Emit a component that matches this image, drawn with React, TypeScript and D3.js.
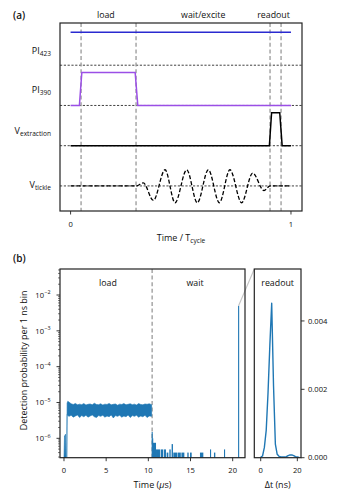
import React from "react";
import * as d3 from "d3";

// ---------- Panel (a) data ----------
const laneNames = ["PI423", "PI390", "Vextraction", "Vtickle"];
const laneOffsets = [3.66, 2.44, 1.22, 0];
const pi423T = [0, 1];
const pi423V = [1, 1];
const pi390T = [0, 0.04, 0.051, 0.293, 0.305, 1];
const pi390V = [0, 0, 1, 1, 0, 0];
const extractionT = [0, 0.902, 0.912, 0.949, 0.96, 1];
const extractionV = [0, 0, 1, 1, 0, 0];
const tickleT = [0, 0.297, 0.33, 0.3755, 0.4286, 0.474, 0.527, 0.575, 0.625, 0.675, 0.723, 0.776, 0.826, 0.8776, 0.905, 1];
const tickleV = [0, 0, 0.09, -0.44, 0.49, -0.51, 0.49, -0.51, 0.49, -0.51, 0.49, -0.51, 0.39, -0.14, 0, 0];
const phaseMarks = [0.0476, 0.297, 0.905, 0.955];
const phaseLabelsA = [
  { text: "load", t: 0.16 },
  { text: "wait/excite", t: 0.602 },
  { text: "readout", t: 0.921 },
];
const xTicksA = [0, 1];

// ---------- Panel (b) data ----------
const loadStart: [number, number][] = [
  [0.0, 2.9e-7], [0.06, 1.15e-6], [0.18, 1.3e-6], [0.24, 2.9e-7],
];
// [t (us), lower, upper]
const loadBand: [number, number, number][] = [
  [0.33, 2.9e-7, 3e-7], [0.37, 4.6e-6, 9.6e-6], [0.45, 4.3e-6, 1.08e-5], [0.6, 4.1e-6, 1.02e-5],
  [0.85, 4.4e-6, 9.2e-6], [1.1, 3.9e-6, 8.8e-6], [1.35, 4.2e-6, 9.4e-6], [1.6, 4.5e-6, 8.6e-6],
  [1.85, 3.8e-6, 9.0e-6], [2.1, 4.3e-6, 8.7e-6], [2.35, 4.0e-6, 9.3e-6], [2.6, 4.4e-6, 8.5e-6],
  [2.85, 3.9e-6, 8.9e-6], [3.1, 4.2e-6, 9.1e-6], [3.35, 4.5e-6, 8.6e-6], [3.6, 4.0e-6, 9.5e-6],
  [3.85, 3.8e-6, 8.8e-6], [4.1, 4.3e-6, 8.7e-6], [4.35, 4.1e-6, 9.2e-6], [4.6, 4.4e-6, 8.5e-6],
  [4.85, 3.9e-6, 9.0e-6], [5.1, 4.2e-6, 8.8e-6], [5.35, 4.0e-6, 9.4e-6], [5.6, 4.5e-6, 8.6e-6],
  [5.85, 3.7e-6, 8.9e-6], [6.1, 4.3e-6, 9.1e-6], [6.35, 4.1e-6, 8.4e-6], [6.6, 4.4e-6, 9.0e-6],
  [6.85, 3.9e-6, 8.8e-6], [7.1, 4.2e-6, 9.3e-6], [7.35, 4.0e-6, 8.6e-6], [7.6, 4.5e-6, 8.9e-6],
  [7.85, 3.8e-6, 9.2e-6], [8.1, 4.3e-6, 8.7e-6], [8.35, 4.1e-6, 9.0e-6], [8.6, 4.4e-6, 8.5e-6],
  [8.85, 3.9e-6, 9.3e-6], [9.1, 4.2e-6, 8.8e-6], [9.35, 4.0e-6, 8.6e-6], [9.6, 4.4e-6, 9.1e-6],
  [9.85, 3.8e-6, 8.9e-6], [10.1, 4.2e-6, 9.2e-6], [10.39, 4.1e-6, 8.7e-6],
];
// [t0, t1, value]
const waitBins: [number, number, number][] = [
  [10.39, 10.45, 1.5e-6], [10.45, 10.51, 1.0e-6], [10.51, 10.91, 7.5e-7], [10.91, 11.38, 4.9e-7],
  [11.46, 11.77, 4.9e-7], [11.86, 12.09, 4.9e-7], [12.17, 12.37, 4.0e-7], [12.49, 12.65, 4.9e-7],
  [12.76, 12.92, 6.9e-7], [12.96, 13.4, 4.0e-7], [13.46, 13.85, 4.0e-7], [13.92, 14.27, 4.0e-7],
  [14.62, 14.78, 4.0e-7], [14.94, 15.14, 4.0e-7], [16.12, 16.52, 4.0e-7], [17.31, 17.43, 4.9e-7],
  [17.78, 17.94, 4.0e-7], [18.97, 19.09, 4.9e-7], [20.64, 20.76, 5.0e-3],
];
const loadWaitBoundary = 10.45;
const spikePoint: [number, number] = [20.7, 5.0e-3];
const xTicksB = [0, 5, 10, 15, 20];
const yMajorB = [1e-6, 1e-5, 1e-4, 1e-3, 1e-2];
const yExpB = ["−6", "−5", "−4", "−3", "−2"];

const readoutT = [0, 1, 2, 3, 4, 5, 6, 7, 8, 9, 10, 11, 12, 13, 14, 15, 16, 17, 18, 19, 20, 21];
const readoutV = [0.00002, 0.00005, 0.0003, 0.0008, 0.0019, 0.0033, 0.00452, 0.0021, 0.0004, 0.0001, 0.00004, 0.00002, 0.00002, 0.00002, 0.00003, 0.00006, 0.00008, 0.00008, 0.00006, 0.00003, 0.00002, 0.00001];
const xTicksC = [0, 20];
const yTicksC = [0, 0.002, 0.004];

const FONT = "'Open Sans', 'DejaVu Sans', sans-serif";
const BLUE = "#1f77b4";

export default function App() {
  const xA = d3.scaleLinear().domain([-0.048, 1.05]).range([60, 302]);
  const yA = d3.scaleLinear().domain([-0.76, 4.94]).range([211, 23]);
  const lineA = (ts: number[], vs: number[], off: number, curve: d3.CurveFactory = d3.curveLinear) =>
    d3.line<number>().x((_, i) => xA(ts[i])).y((_, i) => yA(vs[i] + off)).curve(curve)(ts) || "";

  const xB = d3.scaleLinear().domain([-0.474, 21.46]).range([60, 245]);
  const yB = d3.scaleLog().domain([2.877e-7, 0.0532]).range([457.7, 269]);
  const xC = d3.scaleLinear().domain([-3.5, 22]).range([254.3, 301]);
  const yC = d3.scaleLinear().domain([0, 0.00554]).range([457.7, 268.3]);

  const [bx0, bx1] = xB.range();
  const [by0, by1] = yB.range();
  const [cx0, cx1] = xC.range();

  const bandPath = d3.area<[number, number, number]>()
    .x(d => xB(d[0])).y0(d => yB(d[1])).y1(d => yB(d[2]))(loadBand) || "";
  const startPath = d3.area<[number, number]>()
    .x(d => xB(d[0])).y0(by0 + 2).y1(d => yB(d[1]))(loadStart) || "";
  const readoutPath = d3.line<number>().x((_, i) => xC(readoutT[i])).y((_, i) => yC(readoutV[i]))(readoutT) || "";

  const minorB: number[] = [];
  const [dLo, dHi] = yB.domain();
  for (let e = -8; e <= -1; e++) {
    for (let k = 2; k <= 9; k++) {
      const v = k * Math.pow(10, e);
      if (v >= dLo && v <= dHi) minorB.push(v);
    }
  }

  const frame = { stroke: "#222", strokeWidth: 1.2, fill: "none" };

  return (
    <svg width={341} height={501} style={{ position: "absolute", left: 0, top: 0, fontFamily: FONT }}>
      <rect width={341} height={501} fill="white" />
      {/* ================= Panel (a) ================= */}
      <text x={13} y={19} fontSize={10} fontWeight={600} fill="#111">(a)</text>
      {phaseLabelsA.map(p => (
        <text key={p.text} x={xA(p.t)} y={18} fontSize={8.8} textAnchor="middle" fill="#111">{p.text}</text>
      ))}
      {laneOffsets.map((o, i) => (
        <line key={i} x1={60} x2={302} y1={yA(o)} y2={yA(o)} stroke="#111" strokeWidth={0.8} strokeDasharray="2.2,1.6" />
      ))}
      {phaseMarks.map((t, i) => (
        <line key={i} x1={xA(t)} x2={xA(t)} y1={23} y2={211} stroke="#999" strokeWidth={1.3} strokeDasharray="4,2.6" />
      ))}
      <path d={lineA(pi423T, pi423V, laneOffsets[0])} stroke="#2a2ad0" strokeWidth={1.5} fill="none" />
      <path d={lineA(pi390T, pi390V, laneOffsets[1])} stroke="#9b4fe6" strokeWidth={1.5} fill="none" />
      <path d={lineA(extractionT, extractionV, laneOffsets[2])} stroke="#000" strokeWidth={1.5} fill="none" />
      <path d={lineA(tickleT, tickleV, laneOffsets[3], d3.curveMonotoneX)} stroke="#000" strokeWidth={1.3} fill="none" strokeDasharray="4,2" />
      <text x={51} y={yA(laneOffsets[0] + 0.42) + 3} fontSize={9} textAnchor="end" fill="#111">
        PI<tspan fontSize={6.6} dy={2}>423</tspan>
      </text>
      <text x={51} y={yA(laneOffsets[1] + 0.46) + 3} fontSize={9} textAnchor="end" fill="#111">
        PI<tspan fontSize={6.6} dy={2}>390</tspan>
      </text>
      <text x={51} y={yA(laneOffsets[2] + 0.46) + 3} fontSize={9} textAnchor="end" fill="#111">
        V<tspan fontSize={6.6} dy={2}>extraction</tspan>
      </text>
      <text x={51} y={yA(laneOffsets[3]) + 2} fontSize={9} textAnchor="end" fill="#111">
        V<tspan fontSize={6.6} dy={2}>tickle</tspan>
      </text>
      <rect x={60} y={23} width={242} height={188} {...frame} />
      {xTicksA.map(t => (
        <g key={t}>
          <line x1={xA(t)} x2={xA(t)} y1={211} y2={214.5} stroke="#222" strokeWidth={0.9} />
          <text x={xA(t)} y={227} fontSize={7.6} textAnchor="middle" fill="#111">{t}</text>
        </g>
      ))}
      <text x={181} y={241} fontSize={9} textAnchor="middle" fill="#111">
        Time / T<tspan fontSize={6.6} dy={2}>cycle</tspan>
      </text>

      {/* ================= Panel (b) ================= */}
      <text x={13} y={262} fontSize={10} fontWeight={600} fill="#111">(b)</text>
      <defs>
        <clipPath id="clipB">
          <rect x={bx0} y={by1} width={bx1 - bx0} height={by0 - by1} />
        </clipPath>
        <clipPath id="clipC">
          <rect x={cx0} y={by1} width={cx1 - cx0} height={by0 - by1} />
        </clipPath>
      </defs>
      <g clipPath="url(#clipB)">
        <line x1={xB(loadWaitBoundary)} x2={xB(loadWaitBoundary)} y1={by1} y2={by0} stroke="#999" strokeWidth={1.3} strokeDasharray="4,2.6" />
        <path d={startPath} fill={BLUE} stroke={BLUE} strokeWidth={0.6} />
        <path d={bandPath} fill={BLUE} stroke={BLUE} strokeWidth={0.6} />
        {waitBins.map((b, i) => {
          const x0 = xB(b[0]);
          const w = Math.max(1.1, xB(b[1]) - x0);
          return <rect key={i} x={x0} y={yB(b[2])} width={w} height={by0 - yB(b[2]) + 2} fill={BLUE} />;
        })}
      </g>
      <line x1={xB(spikePoint[0])} y1={yB(spikePoint[1])} x2={cx0} y2={by1} stroke="#c4c4c4" strokeWidth={1.1} />
      <rect x={bx0} y={by1} width={bx1 - bx0} height={by0 - by1} {...frame} />
      {minorB.map((v, i) => (
        <line key={i} x1={bx0 - 2} x2={bx0} y1={yB(v)} y2={yB(v)} stroke="#222" strokeWidth={0.6} />
      ))}
      {yMajorB.map((v, i) => (
        <g key={v}>
          <line x1={bx0 - 3.5} x2={bx0} y1={yB(v)} y2={yB(v)} stroke="#222" strokeWidth={0.9} />
          <text x={44} y={yB(v) + 2.7} fontSize={7.6} textAnchor="end" fill="#111">10</text>
          <text x={44.3} y={yB(v) - 0.8} fontSize={5.4} textAnchor="start" fill="#111">{yExpB[i]}</text>
        </g>
      ))}
      {xTicksB.map(t => (
        <g key={t}>
          <line x1={xB(t)} x2={xB(t)} y1={by0} y2={by0 + 3.5} stroke="#222" strokeWidth={0.9} />
          <text x={xB(t)} y={473} fontSize={7.6} textAnchor="middle" fill="#111">{t}</text>
        </g>
      ))}
      <text x={(bx0 + bx1) / 2} y={487.5} fontSize={9} textAnchor="middle" fill="#111">
        Time (<tspan fontStyle="italic">μ</tspan>s)
      </text>
      <text transform={`translate(27,${(by0 + by1) / 2 - 3}) rotate(-90)`} fontSize={9} textAnchor="middle" fill="#111">
        Detection probability per 1 ns bin
      </text>
      <text x={108} y={286} fontSize={8.8} textAnchor="middle" fill="#111">load</text>
      <text x={195} y={286} fontSize={8.8} textAnchor="middle" fill="#111">wait</text>

      <g clipPath="url(#clipC)">
        <path d={readoutPath} stroke={BLUE} strokeWidth={1.4} fill="none" strokeLinejoin="round" />
      </g>
      <rect x={cx0} y={by1} width={cx1 - cx0} height={by0 - by1} {...frame} />
      <text x={(cx0 + cx1) / 2} y={286} fontSize={8.8} textAnchor="middle" fill="#111">readout</text>
      {xTicksC.map(t => (
        <g key={t}>
          <line x1={xC(t)} x2={xC(t)} y1={by0} y2={by0 + 3.5} stroke="#222" strokeWidth={0.9} />
          <text x={xC(t)} y={473} fontSize={7.6} textAnchor="middle" fill="#111">{t}</text>
        </g>
      ))}
      {yTicksC.map(v => (
        <g key={v}>
          <line x1={cx1} x2={cx1 + 3.5} y1={yC(v)} y2={yC(v)} stroke="#222" strokeWidth={0.9} />
          <text x={308} y={yC(v) + 2.7} fontSize={7.6} textAnchor="start" fill="#111">{v.toFixed(3)}</text>
        </g>
      ))}
      <text x={(cx0 + cx1) / 2} y={487.5} fontSize={9} textAnchor="middle" fill="#111">Δt (ns)</text>
    </svg>
  );
}
